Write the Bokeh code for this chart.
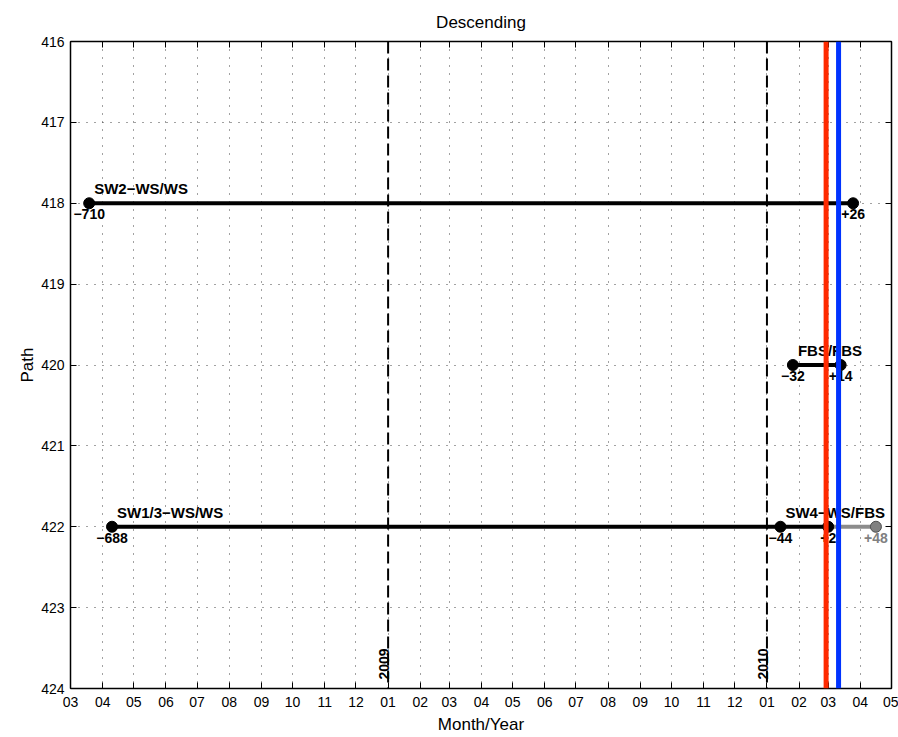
import numpy as np
import pandas as pd
from bokeh.plotting import figure
from bokeh.models import (Range1d, LinearAxis, DatetimeAxis, MonthsTicker,
                          DatetimeTickFormatter, FixedTicker, Span)
from bokeh.core.properties import value
from bokeh.embed import file_html
from bokeh.resources import INLINE

# ---------------- data ----------------
x_start = "2008-03-01"
x_end = "2010-05-01"
path_ticks = [416, 417, 418, 419, 420, 421, 422, 423, 424]

ref_date = "2010-02-27"      # red line (offsets are days from this date)
blue_offset = 12             # blue line, days after ref_date

year_marks = ["2009-01-01", "2010-01-01"]
year_labels = ["2009", "2010"]

track_names = ["SW2\u2212WS/WS", "FBS/FBS", "SW1/3\u2212WS/WS", "SW4\u2212WS/FBS"]
track_paths = [418, 420, 422, 422]
track_anchor = [-710, -32, -688, -44]

seg_paths = [418, 420, 422]
seg_start = [-710, -32, -688]
seg_end = [26, 14, 2]

ext_paths = [422]
ext_start = [2]
ext_end = [48]

pt_paths = [418, 418, 420, 420, 422, 422, 422]
pt_offsets = [-710, 26, -32, 14, -688, -44, 2]

ext_pt_paths = [422]
ext_pt_offsets = [48]

# ---------------- helpers ----------------
REF = pd.Timestamp(ref_date)
FONT = value("Liberation Sans")


def day(offsets):
    return [REF + pd.Timedelta(days=int(o)) for o in offsets]


def fmt(o):
    return ("+" if o > 0 else "\u2212") + str(abs(o))


def ms(ts):
    return pd.Timestamp(ts).value / 1e6


p = figure(width=898, height=737, x_axis_type="datetime",
           x_range=Range1d(pd.Timestamp(x_start), pd.Timestamp(x_end)),
           y_range=Range1d(424, 416),
           output_backend="svg", toolbar_location=None,
           title="Descending",
           min_border_left=70, min_border_right=7, min_border_top=41,
           min_border_bottom=49)

p.background_fill_color = "white"
p.border_fill_color = "white"
p.outline_line_color = "black"
p.outline_line_width = 1

p.title.text_font = "Liberation Sans"
p.title.text_font_size = "17px"
p.title.text_font_style = "normal"
p.title.align = "center"
p.title.text_color = "black"
p.title.standoff = 19

month_ticker = MonthsTicker(months=list(range(1, 13)))
month_fmt = DatetimeTickFormatter(months="%m", days="%m", years="%m",
                                  hours="%m", minutes="%m", seconds="%m")

xa = p.xaxis[0]
xa.ticker = month_ticker
xa.formatter = month_fmt
ya = p.yaxis[0]
ya.ticker = FixedTicker(ticks=path_ticks)

p.xaxis.axis_label = "Month/Year"
p.yaxis.axis_label = "Path"

top_ax = DatetimeAxis(ticker=month_ticker, formatter=month_fmt)
right_ax = LinearAxis(ticker=FixedTicker(ticks=path_ticks))
p.add_layout(top_ax, "above")
p.add_layout(right_ax, "right")

for ax in [xa, ya, top_ax, right_ax]:
    ax.axis_line_color = "black"
    ax.axis_line_width = 1.5
    ax.major_tick_in = 6
    ax.major_tick_out = 0
    ax.major_tick_line_color = "black"
    ax.minor_tick_line_color = None
    ax.major_label_text_font = "Liberation Sans"
    ax.major_label_text_font_size = "14px"
    ax.major_label_text_color = "black"
    ax.axis_label_text_font = "Liberation Sans"
    ax.axis_label_text_font_size = "17px"
    ax.axis_label_text_font_style = "normal"
    ax.axis_label_text_color = "black"

for ax in [top_ax, right_ax]:
    ax.major_label_text_color = None
    ax.major_label_text_font_size = "1px"
    ax.major_label_standoff = 0

xa.major_label_standoff = 8
xa.axis_label_standoff = 5
ya.major_label_standoff = 6
ya.axis_label_standoff = 1

p.xgrid.ticker = month_ticker
p.ygrid.ticker = FixedTicker(ticks=path_ticks)
for g in [p.xgrid[0], p.ygrid[0]]:
    g.grid_line_color = "#444444"
    g.grid_line_dash = "1 7"
    g.grid_line_width = 1

# vertical marker lines
for d in year_marks:
    p.add_layout(Span(location=ms(d), dimension="height", line_color="black",
                      line_width=2, line_dash="12 5"))
p.add_layout(Span(location=ms(REF), dimension="height", line_color="#ff2a00",
                  line_width=5))
p.add_layout(Span(location=ms(REF + pd.Timedelta(days=blue_offset)),
                  dimension="height", line_color="#0033ff", line_width=5))

# year labels
p.text(x=[pd.Timestamp(d) for d in year_marks], y=[424, 424], text=year_labels,
       angle=np.pi / 2, text_align="left", text_baseline="bottom",
       x_offset=1, y_offset=-9, text_font=FONT, text_font_size="14px",
       text_font_style="bold", text_color="black")

# segments
p.segment(x0=day(ext_start), y0=ext_paths, x1=day(ext_end), y1=ext_paths,
          line_color="#8c8c8c", line_width=4)
p.segment(x0=day(seg_start), y0=seg_paths, x1=day(seg_end), y1=seg_paths,
          line_color="black", line_width=4)

p.scatter(x=day(ext_pt_offsets), y=ext_pt_paths, size=11, marker="circle",
          fill_color="#808080", line_color="#505050", line_width=1)
p.scatter(x=day(pt_offsets), y=pt_paths, size=11, marker="circle",
          fill_color="black", line_color="black")

# offset labels
p.text(x=day(pt_offsets), y=pt_paths, text=[fmt(o) for o in pt_offsets],
       text_align="center", text_baseline="top", y_offset=6,
       text_font=FONT, text_font_size="14px", text_font_style="bold",
       text_color="black")
p.text(x=day(ext_pt_offsets), y=ext_pt_paths, text=[fmt(o) for o in ext_pt_offsets],
       text_align="center", text_baseline="top", y_offset=6,
       text_font=FONT, text_font_size="14px", text_font_style="bold",
       text_color="#808080")

# track labels
p.text(x=day(track_anchor), y=track_paths, text=track_names,
       text_align="left", text_baseline="bottom", x_offset=5, y_offset=-6,
       text_font=FONT, text_font_size="15px", text_font_style="bold",
       text_color="black")

open("out.html", "w").write(file_html(p, INLINE))
